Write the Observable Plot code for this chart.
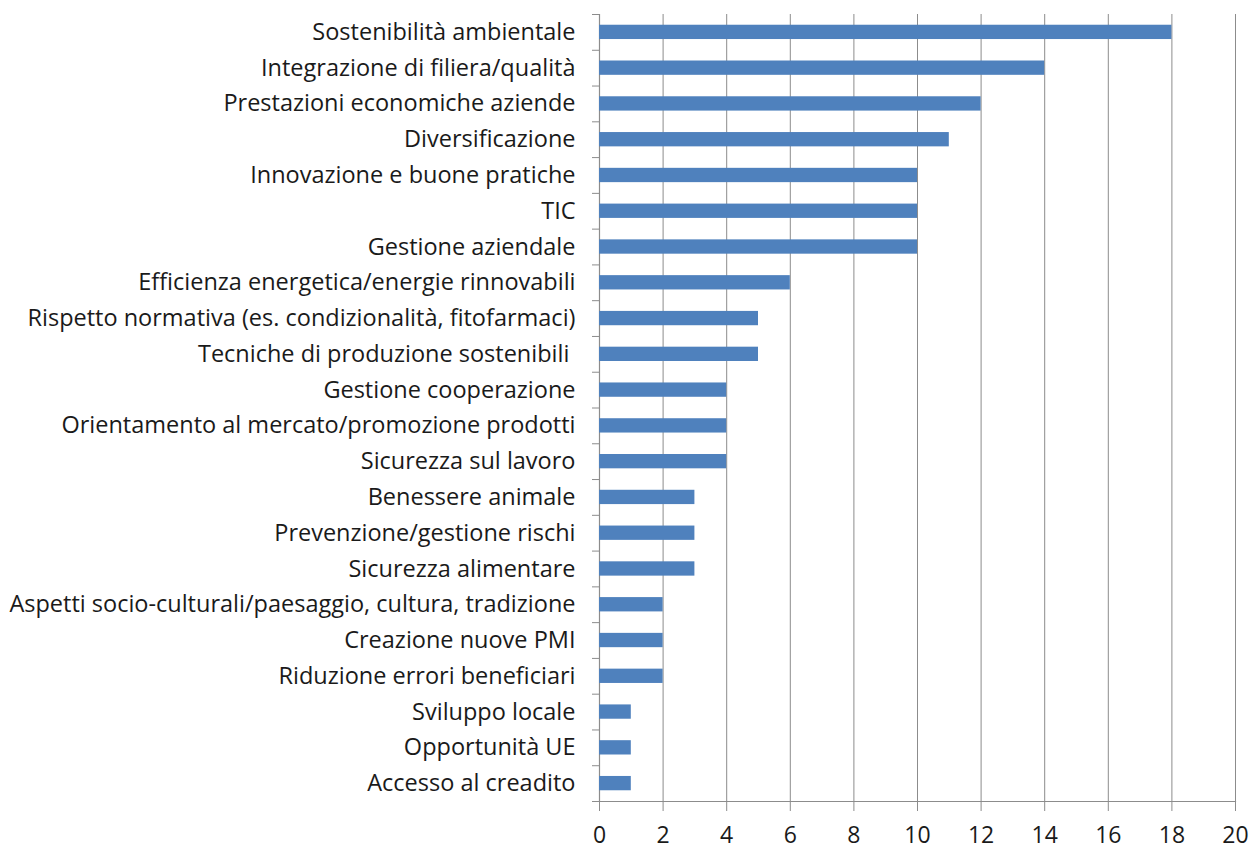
<!DOCTYPE html>
<html>
<head>
<meta charset="utf-8">
<script src="https://cdn.jsdelivr.net/npm/d3@7"></script>
<script src="https://cdn.jsdelivr.net/npm/@observablehq/plot@0.6"></script>
<style>
  html, body { margin: 0; padding: 0; background: #fff; }
  #chart svg { display: block; overflow: visible; }
</style>
</head>
<body>
<div id="chart"></div>
<script>
// Topics, top to bottom, and the number of mentions for each
const categories = [
  "Sostenibilità ambientale",
  "Integrazione di filiera/qualità",
  "Prestazioni economiche aziende",
  "Diversificazione",
  "Innovazione e buone pratiche",
  "TIC",
  "Gestione aziendale",
  "Efficienza energetica/energie rinnovabili",
  "Rispetto normativa (es. condizionalità, fitofarmaci)",
  "Tecniche di produzione sostenibili ",
  "Gestione cooperazione",
  "Orientamento al mercato/promozione prodotti",
  "Sicurezza sul lavoro",
  "Benessere animale",
  "Prevenzione/gestione rischi",
  "Sicurezza alimentare",
  "Aspetti socio-culturali/paesaggio, cultura, tradizione",
  "Creazione nuove PMI",
  "Riduzione errori beneficiari",
  "Sviluppo locale",
  "Opportunità UE",
  "Accesso al creadito"
];
const values = [18, 14, 12, 11, 10, 10, 10, 6, 5, 5, 4, 4, 4, 3, 3, 3, 2, 2, 2, 1, 1, 1];
const xTicks = [0, 2, 4, 6, 8, 10, 12, 14, 16, 18, 20];

const data = categories.map((c, i) => ({topic: c, count: values[i]}));

const W = 1251, H = 849;
const mTop = 14, mBottom = 48, mLeft = 599, mRight = 16;
const step = (H - mTop - mBottom) / categories.length;
const axisGray = "#8c8c8c";
const textColor = "#1a1a1a";

const chart = Plot.plot({
  width: W,
  height: H,
  marginTop: mTop,
  marginBottom: mBottom,
  marginLeft: mLeft,
  marginRight: mRight,
  style: {fontFamily: "'Open Sans', sans-serif", fontSize: "23.5px", color: textColor, background: "#fff"},
  x: {domain: [0, 20], ticks: xTicks, label: null},
  y: {domain: categories, paddingInner: 0.6, paddingOuter: 0.3, align: 0.5, round: false, label: null},
  marks: [
    Plot.gridX(xTicks, {stroke: axisGray, strokeOpacity: 1, strokeWidth: 1}),
    Plot.frame({anchor: "bottom", stroke: axisGray, strokeWidth: 1.2}),
    Plot.frame({anchor: "left", stroke: axisGray, strokeWidth: 1.2}),
    Plot.barX(data, {y: "topic", x: "count", fill: "#4f81bd"}),
    // category labels
    Plot.axisY({tickSize: 0, tickPadding: 24, label: null, fontSize: 23.5, fill: textColor}),
    // short tick marks on the band boundaries
    Plot.axisY({tickSize: 7, dy: -step / 2, tickFormat: () => "", label: null, stroke: axisGray}),
    Plot.axisY({ticks: categories.slice(-1), tickSize: 7, dy: step / 2, tickFormat: () => "", label: null, stroke: axisGray}),
    // value axis
    Plot.axisX({ticks: xTicks, tickSize: 10, tickPadding: 15, label: null, fontSize: 23, fill: textColor, stroke: axisGray})
  ]
});

document.getElementById("chart").append(chart);
</script>
</body>
</html>
